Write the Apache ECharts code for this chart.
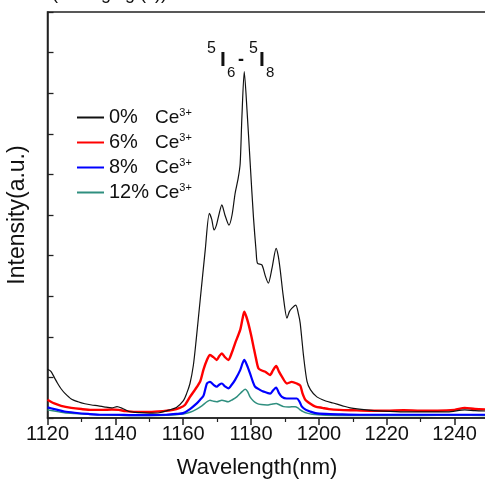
<!DOCTYPE html>
<html>
<head>
<meta charset="utf-8">
<script src="https://cdn.jsdelivr.net/npm/echarts@6/dist/echarts.min.js"></script>
<style>html,body{margin:0;padding:0;background:#fff}#c{width:485px;height:479px}</style>
</head>
<body>
<div id="c"></div>
<script>
// ---- data ----
var xTicks = [1120, 1140, 1160, 1180, 1200, 1220, 1240];
var legendPct = ['0%', '6%', '8%', '12%'];

var wl0 = [1120,1121,1122,1123,1124,1125,1127,1129,1131,1133,1135,1137,1139,1140.5,1142,1144,1147,1150,1153,1156,1158,1160,1161,1162,1163,1163.8,1165,1166.5,1167.7,1168.4,1169.1,1169.8,1170.4,1171.4,1172.3,1173.5,1174.4,1175.3,1176.2,1176.8,1177.3,1178.0,1178.8,1179.8,1180.7,1181.5,1181.9,1183.2,1184.2,1185.1,1186.2,1187.4,1188.0,1188.6,1189.5,1190.6,1191.3,1192.0,1193.2,1194.0,1194.5,1195.5,1196.5,1197.5,1199.4,1202,1204.2,1207,1209.2,1214,1219,1225,1232,1238,1243,1246,1250];
var int0 = [1.2,1.15,1.0,0.85,0.72,0.62,0.47,0.40,0.35,0.32,0.30,0.27,0.25,0.28,0.24,0.16,0.13,0.12,0.13,0.2,0.26,0.42,0.6,0.85,1.3,1.9,2.9,4.14,5.04,4.9,4.63,4.75,4.96,5.25,5.0,4.75,5.0,5.53,5.9,6.27,7.4,8.53,7.6,6.2,4.96,4.1,3.81,3.77,3.5,3.32,3.7,4.18,4.0,3.65,3.0,2.46,2.62,2.70,2.78,2.55,2.33,1.51,0.9,0.7,0.52,0.42,0.37,0.3,0.25,0.2,0.17,0.15,0.15,0.15,0.2,0.18,0.17];

var wl6 = [1120,1121,1122,1124,1127,1130,1133,1136,1139,1141,1143,1146,1150,1154,1157,1159,1160.5,1162,1163.5,1165,1166,1167,1167.9,1168.9,1169.9,1170.6,1171.4,1172.3,1173.3,1174.3,1175.3,1176.8,1177.5,1178.0,1178.6,1179.2,1180.0,1180.7,1181.5,1182.2,1183.2,1184.2,1185.6,1186.5,1187.4,1188.2,1189.1,1190.6,1192,1193.5,1194.5,1195.2,1196,1197.5,1199,1201,1203,1206,1210,1215,1220,1225,1230,1235,1240,1243,1246,1250];
var int6 = [0.45,0.4,0.36,0.3,0.25,0.22,0.2,0.2,0.21,0.2,0.17,0.15,0.15,0.17,0.2,0.25,0.32,0.52,0.7,0.9,1.2,1.43,1.55,1.5,1.43,1.52,1.59,1.5,1.43,1.6,1.84,2.17,2.45,2.62,2.5,2.33,2.05,1.77,1.45,1.22,1.17,1.14,1.06,1.18,1.28,1.15,1.02,0.85,0.89,0.85,0.8,0.6,0.45,0.35,0.28,0.25,0.22,0.2,0.19,0.18,0.18,0.19,0.18,0.18,0.2,0.25,0.22,0.21];

var wl8 = [1120,1121,1123,1125,1128,1132,1136,1140,1145,1150,1155,1158,1160,1162,1164,1165,1166,1167,1167.9,1168.9,1169.9,1170.6,1171.4,1172.3,1173.3,1174.3,1175.3,1176.8,1177.5,1178.0,1178.8,1179.7,1180.5,1181.2,1182.5,1183.7,1185.6,1186.5,1187.4,1188.2,1189.1,1190.5,1192,1193.5,1194.3,1195,1196.2,1197.4,1199,1202,1206,1212,1220,1230,1240,1250];
var int8 = [0.26,0.24,0.2,0.16,0.13,0.1,0.08,0.08,0.07,0.07,0.08,0.1,0.12,0.22,0.36,0.45,0.55,0.85,0.89,0.82,0.77,0.82,0.85,0.78,0.73,0.82,0.94,1.18,1.35,1.43,1.3,1.10,0.9,0.77,0.7,0.65,0.6,0.68,0.75,0.62,0.52,0.48,0.48,0.48,0.4,0.28,0.2,0.16,0.12,0.1,0.09,0.08,0.08,0.08,0.08,0.08];

var wl12 = [1120,1122,1125,1128,1132,1136,1140,1145,1150,1155,1160,1162,1164,1165.5,1167,1167.9,1169,1169.9,1171.4,1173.3,1174.5,1175.8,1177,1178.3,1179,1179.7,1180.7,1181.7,1183,1184.7,1186,1187.4,1188.5,1189.6,1191,1193,1193.8,1194.5,1195.5,1196.5,1198,1202,1210,1220,1230,1240,1250];
var int12 = [0.2,0.17,0.13,0.11,0.09,0.08,0.07,0.06,0.06,0.07,0.1,0.14,0.22,0.3,0.40,0.44,0.41,0.40,0.44,0.40,0.45,0.52,0.62,0.71,0.65,0.52,0.42,0.36,0.33,0.32,0.34,0.36,0.32,0.28,0.27,0.28,0.25,0.2,0.15,0.12,0.09,0.07,0.06,0.06,0.06,0.07,0.06];

function pairs(xs, ys) { return xs.map(function (x, i) { return [x, ys[i]]; }); }

var FONT = '"Liberation Sans", Arial, sans-serif';
var chart = echarts.init(document.getElementById('c'), null, { renderer: 'canvas' });

var seriesDefs = [
  { pct: legendPct[0], data: pairs(wl0, int0), color: '#111111', width: 1.2 },
  { pct: legendPct[1], data: pairs(wl6, int6), color: '#ff0000', width: 2.4 },
  { pct: legendPct[2], data: pairs(wl8, int8), color: '#0000ff', width: 2.2 },
  { pct: legendPct[3], data: pairs(wl12, int12), color: '#2f8f7f', width: 1.5 }
];

var option = {
  animation: false,
  backgroundColor: '#ffffff',
  grid: { left: 47.5, top: 12, width: 441, height: 406, containLabel: false, outerBoundsMode: 'none', show: true, borderColor: '#222', borderWidth: 1.5, backgroundColor: 'transparent' },
  legend: {
    orient: 'vertical',
    left: 72,
    top: 102,
    itemWidth: 27,
    itemHeight: 14,
    itemGap: 4,
    icon: 'path://M0,6L27,6L27,8L0,8Z',
    data: seriesDefs.map(function (s) { return s.pct + ' Ce3+'; }),
    formatter: function (name) {
      return '{a|' + name.split(' ')[0] + '}{b|Ce}{c|3+}';
    },
    textStyle: {
      fontFamily: FONT,
      color: '#111',
      rich: {
        a: { fontSize: 20, width: 46, fontFamily: FONT, color: '#111', lineHeight: 21 },
        b: { fontSize: 19, fontFamily: FONT, color: '#111', lineHeight: 21 },
        c: { fontSize: 11, fontFamily: FONT, color: '#111', verticalAlign: 'top', lineHeight: 21, padding: [0, 0, 10, 0] }
      }
    }
  },
  xAxis: {
    type: 'value',
    min: 1120,
    max: 1250,
    interval: 20,
    name: 'Wavelength(nm)',
    nameLocation: 'middle',
    nameGap: 39,
    nameTextStyle: { fontFamily: FONT, fontSize: 22, color: '#111', padding: [0, 22, 0, 0] },
    axisLine: { lineStyle: { color: '#222', width: 1.5 } },
    axisTick: { inside: false, length: 7, lineStyle: { color: '#222', width: 1.5 } },
    minorTick: { show: true, splitNumber: 2, length: 4, lineStyle: { color: '#222', width: 1.2 } },
    splitLine: { show: false },
    axisLabel: {
      fontFamily: FONT, fontSize: 20, color: '#111', margin: 6,
      formatter: function (v) { return xTicks.indexOf(v) >= 0 ? String(v) : ''; }
    }
  },
  yAxis: {
    type: 'value',
    min: 0,
    max: 10,
    interval: 1,
    name: 'Intensity(a.u.)',
    nameLocation: 'middle',
    nameGap: 18,
    nameTextStyle: { fontFamily: FONT, fontSize: 23, color: '#111' },
    axisLine: { show: true, lineStyle: { color: '#222', width: 1.5 } },
    axisTick: { show: true, inside: true, length: 6, lineStyle: { color: '#222', width: 1.3 } },
    axisLabel: { show: false },
    splitLine: { show: false }
  },
  graphic: [
    { type: 'text', left: 52, top: -15, style: { text: '(Changing (c))', font: '18px ' + FONT, fill: '#111' } },
    { type: 'text', x: 207, y: 49, style: { text: '5', font: '16px ' + FONT, fill: '#111', verticalAlign: 'middle' } },
    { type: 'text', x: 220, y: 60, style: { text: 'I', font: 'bold 21px ' + FONT, fill: '#111', verticalAlign: 'middle' } },
    { type: 'text', x: 227, y: 72.5, style: { text: '6', font: '15px ' + FONT, fill: '#111', verticalAlign: 'middle' } },
    { type: 'text', x: 238, y: 60, style: { text: '-', font: 'bold 18px ' + FONT, fill: '#111', verticalAlign: 'middle' } },
    { type: 'text', x: 249, y: 49, style: { text: '5', font: '16px ' + FONT, fill: '#111', verticalAlign: 'middle' } },
    { type: 'text', x: 259, y: 60, style: { text: 'I', font: 'bold 21px ' + FONT, fill: '#111', verticalAlign: 'middle' } },
    { type: 'text', x: 266, y: 72.5, style: { text: '8', font: '15px ' + FONT, fill: '#111', verticalAlign: 'middle' } }
  ],
  series: seriesDefs.slice().reverse().map(function (s) {
    return {
      name: s.pct + ' Ce3+',
      type: 'line',
      data: s.data,
      showSymbol: false,
      symbol: 'none',
      smooth: 0.25,
      clip: true,
      lineStyle: { color: s.color, width: s.width },
      itemStyle: { color: s.color }
    };
  })
};
chart.setOption(option);
</script>
</body>
</html>
